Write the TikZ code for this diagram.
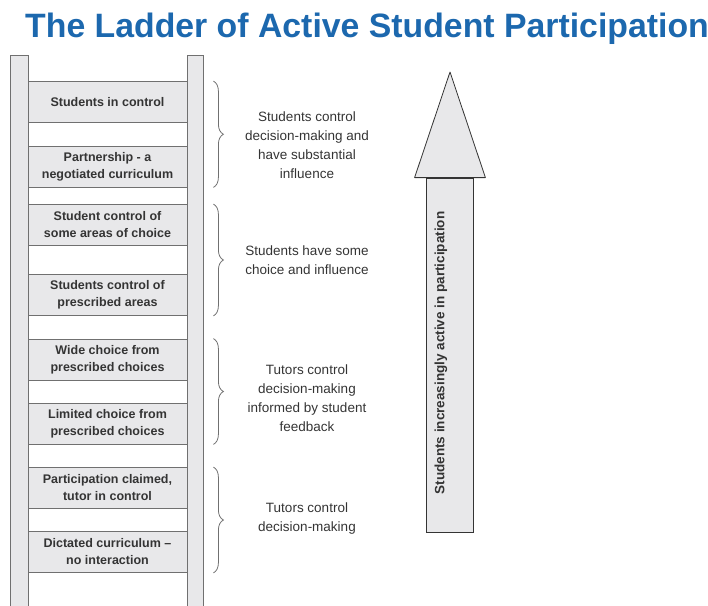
\documentclass[tikz,border=0pt]{standalone}
\usepackage{fontspec}
\setmainfont{Liberation Sans}
\usepackage{tikz}
\usetikzlibrary{decorations.pathreplacing}
\usepackage{xcolor}
\definecolor{ColTitle}{RGB}{28,104,174}
\definecolor{ColLine}{RGB}{112,112,112}
\definecolor{ColFill}{RGB}{232,232,234}
\definecolor{ColText}{RGB}{52,52,52}
\tikzstyle{TitleText}=[text=ColTitle,font=\bfseries\fontsize{33.8}{38}\selectfont,inner sep=0pt]
\tikzstyle{RailBar}=[draw=ColLine,fill=ColFill,line width=0.8pt]
\tikzstyle{RungBox}=[rectangle,draw=ColLine,fill=ColFill,line width=0.8pt,minimum width=159pt,
minimum height=41pt,inner sep=0pt,align=center,text=ColText,font=\bfseries\fontsize{12.5}{17}\selectfont]
\tikzstyle{BraceLine}=[ColLine,line width=0.8pt,decorate,decoration={brace,amplitude=10pt}]
\tikzstyle{BraceText}=[align=center,text=ColText,font=\fontsize{13.5}{19}\selectfont]
\tikzstyle{ShaftBox}=[rectangle,draw=ColText,fill=ColFill,line width=0.8pt,minimum width=47pt,
minimum height=354pt,inner sep=0pt]
\tikzstyle{HeadFill}=[draw=ColText,fill=ColFill,line width=0.8pt,line join=round]
\tikzstyle{ArrowText}=[text=ColText,font=\bfseries\fontsize{13.5}{16}\selectfont]

\begin{document}
\begin{tikzpicture}[x=1pt,y=-1pt]
    \useasboundingbox (0,0) rectangle (708,605);
    \node[TitleText,anchor=base west](title)at(25,37){The Ladder of Active Student Participation};
    % ladder rails
    \draw[RailBar](10,55)rectangle(28,620);
    \draw[RailBar](187,55)rectangle(203,620);
    % rungs
    \node[RungBox](b1)at(107.5,102){Students in control};
    \node[RungBox](b2)at(107.5,166.5){Partnership - a\\negotiated curriculum};
    \node[RungBox](b3)at(107.5,225){Student control of\\some areas of choice};
    \node[RungBox](b4)at(107.5,295){Students control of\\prescribed areas};
    \node[RungBox](b5)at(107.5,359.5){Wide choice from\\prescribed choices};
    \node[RungBox](b6)at(107.5,423.5){Limited choice from\\prescribed choices};
    \node[RungBox](b7)at(107.5,488){Participation claimed,\\tutor in control};
    \node[RungBox](b8)at(107.5,552){Dictated curriculum --\\no interaction};
    % braces
    \draw[BraceLine]([xshift=26pt]b1.north east)--([xshift=26pt]b2.south east);
    \draw[BraceLine]([xshift=26pt]b3.north east)--([xshift=26pt]b4.south east);
    \draw[BraceLine]([xshift=26pt]b5.north east)--([xshift=26pt]b6.south east);
    \draw[BraceLine]([xshift=26pt]b7.north east)--([xshift=26pt]b8.south east);
    \node[BraceText](t1)at(307,145){Students control\\decision-making and\\have substantial\\influence};
    \node[BraceText](t2)at(307,260){Students have some\\choice and influence};
    \node[BraceText](t3)at(307,398){Tutors control\\decision-making\\informed by student\\feedback};
    \node[BraceText](t4)at(307,518){Tutors control\\decision-making};
    % arrow
    \node[ShaftBox](shaft)at(449.5,355){};
    \coordinate(tip)at(450,72);
    \draw[HeadFill]([xshift=-11pt]shaft.north west)--(tip)--([xshift=12pt]shaft.north east)--cycle;
    \node[ArrowText,rotate=90](label)at(441,353){Students increasingly active in participation};
\end{tikzpicture}
\end{document}
